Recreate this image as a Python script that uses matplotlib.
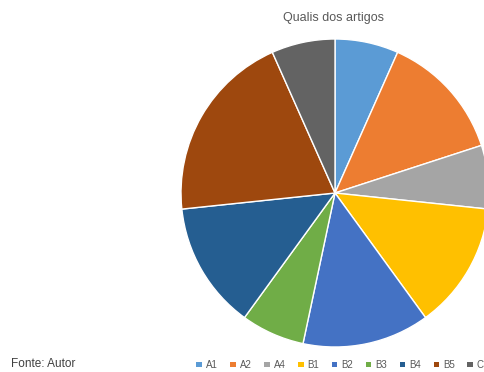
import matplotlib
matplotlib.use("Agg")
import matplotlib.pyplot as plt
from matplotlib.patches import Patch

# Qualis dos artigos (contagem de artigos por estrato)
categorias = ["A1", "A2", "A4", "B1", "B2", "B3", "B4", "B5", "C"]
quantidades = [1, 2, 1, 2, 2, 1, 2, 3, 1]
cores = ["#5B9BD5", "#ED7D31", "#A5A5A5", "#FFC000", "#4472C4",
         "#70AD47", "#255E91", "#9E480E", "#636363"]

plt.rcParams["font.family"] = ["Liberation Sans", "DejaVu Sans"]

W, H = 485, 372
fig = plt.figure(figsize=(W / 100, H / 100), dpi=100)

cx, cy, r = 335, 193, 154
ax = fig.add_axes([(cx - r) / W, (H - cy - r) / H, 2 * r / W, 2 * r / H])
ax.pie(quantidades, colors=cores, startangle=90, counterclock=False,
       radius=1, wedgeprops=dict(edgecolor="white", linewidth=1.0))
ax.set_xlim(-1, 1)
ax.set_ylim(-1, 1)
ax.set_aspect("equal")
ax.axis("off")

fig.text(334 / W, 1 - 18 / H, "Qualis dos artigos", ha="center", va="center",
         fontsize=9, color="#595959")

fig.text(11 / W, 1 - 364 / H, "Fonte: Autor", ha="left", va="center",
         fontsize=8.5, color="#404040")

handles = [Patch(facecolor=c, edgecolor="none") for c in cores]
fig.legend(handles, categorias, loc="center", ncol=len(categorias),
           bbox_to_anchor=(340 / W, 1 - 365 / H), frameon=False,
           fontsize=7, labelcolor="#595959", handlelength=0.55,
           handleheight=0.55, handletextpad=0.4, columnspacing=1.32,
           borderpad=0, borderaxespad=0)

fig.savefig("out.png", dpi=100)
